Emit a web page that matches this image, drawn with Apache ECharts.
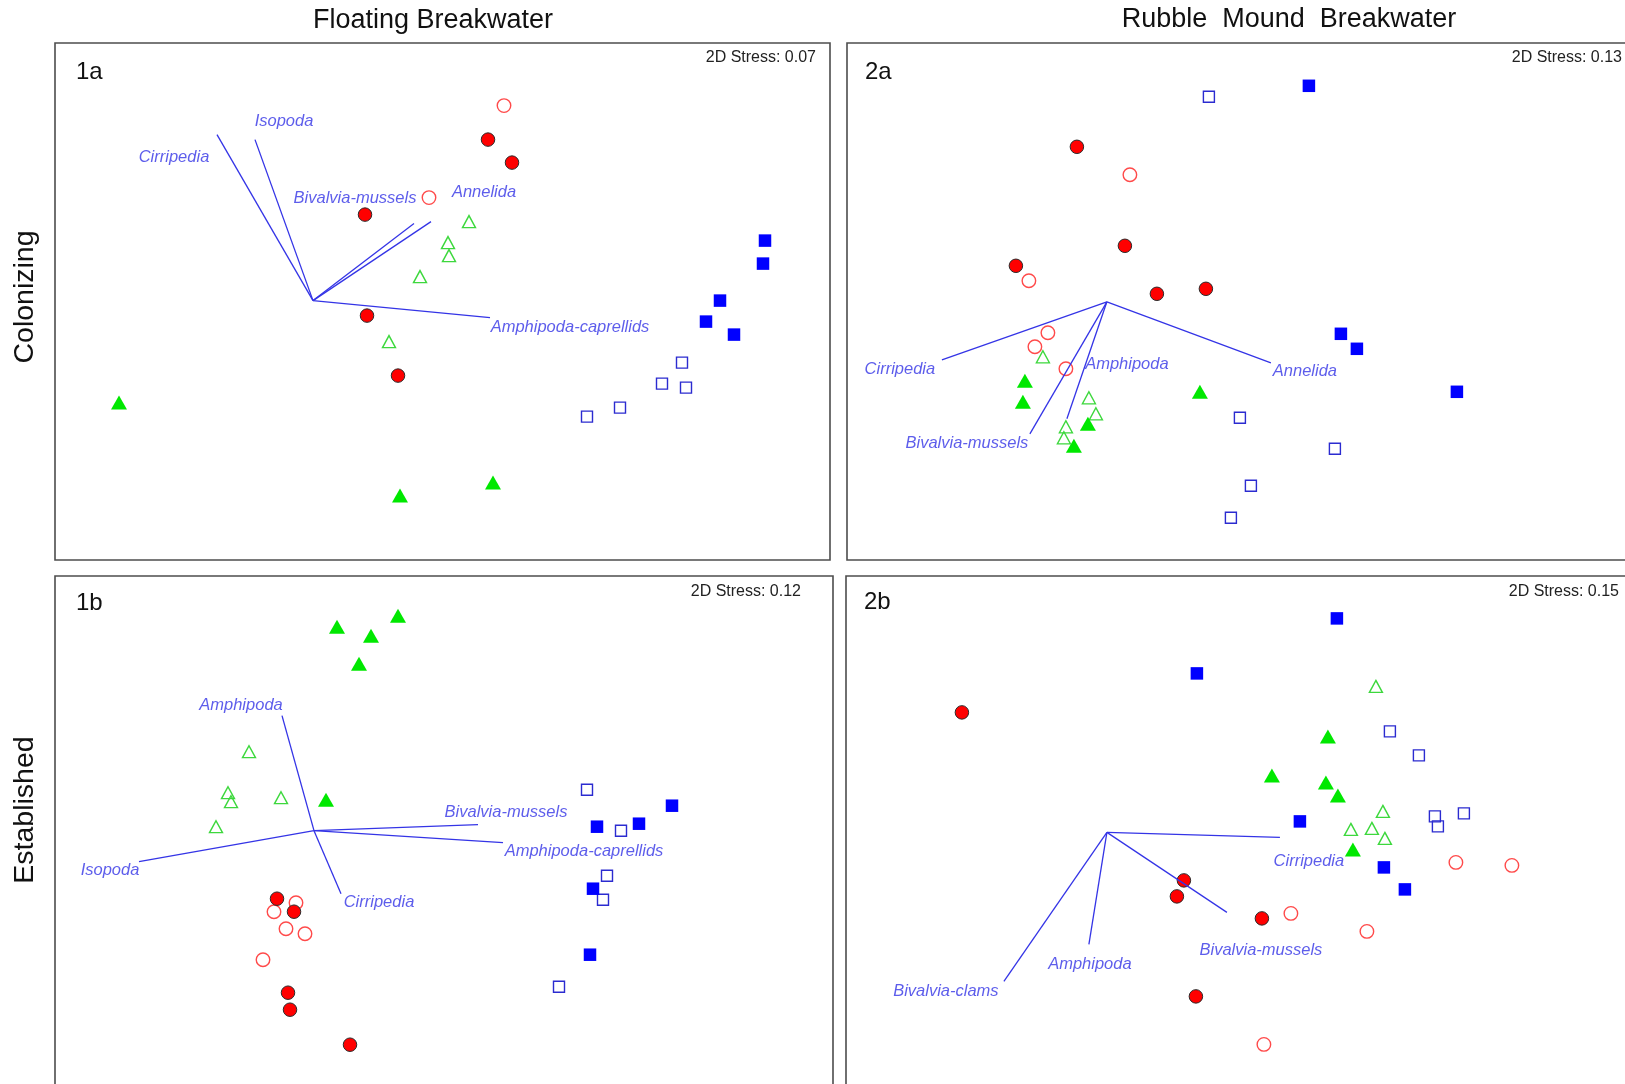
<!DOCTYPE html>
<html>
<head>
<meta charset="utf-8">
<title>nMDS ordinations – Floating vs Rubble Mound Breakwater</title>
<script src="https://cdn.jsdelivr.net/npm/echarts@6/dist/echarts.min.js"></script>
<style>
  html, body { margin: 0; padding: 0; background: #fff; }
  #chart { width: 1625px; height: 1084px; }
</style>
</head>
<body>
<div id="chart"></div>
<script>
// ---- nMDS scores (ordination units), vector origin at (0, 0) ----

// Panel 1a: Floating breakwater, colonizing
const fbColRedFilled   = [[1.75, 1.61], [1.99, 1.38], [0.52, 0.86], [0.54, -0.15], [0.85, -0.75]];
const fbColRedOpen     = [[1.91, 1.95], [1.16, 1.03]];
const fbColGreenOpen   = [[1.56, 0.79], [1.35, 0.58], [1.36, 0.45], [1.07, 0.24], [0.76, -0.41]];
const fbColGreenFilled = [[-1.94, -1.02], [0.87, -1.95], [1.80, -1.82]];
const fbColBlueFilled  = [[4.52, 0.60], [4.50, 0.37], [4.07, 0.00], [3.93, -0.21], [4.21, -0.34]];
const fbColBlueOpen    = [[3.69, -0.62], [3.49, -0.83], [3.73, -0.87], [3.07, -1.07], [2.74, -1.16]];
const fbColTaxa        = ['Cirripedia', 'Isopoda', 'Bivalvia-mussels', 'Annelida', 'Amphipoda-caprellids'];
const fbColVectors     = [[-0.96, 1.66], [-0.58, 1.61], [1.01, 0.77], [1.18, 0.79], [1.77, -0.17]];
const fbColTaxaPos     = [[-1.39, 1.43], [-0.29, 1.79], [0.42, 1.02], [1.71, 1.08], [2.57, -0.27]];

// Panel 2a: Rubble mound breakwater, colonizing
const rmColRedFilled   = [[-0.30, 1.55], [0.18, 0.56], [-0.91, 0.36], [0.50, 0.08], [0.99, 0.13]];
const rmColRedOpen     = [[0.23, 1.27], [-0.78, 0.21], [-0.59, -0.31], [-0.72, -0.45], [-0.41, -0.67]];
const rmColGreenOpen   = [[-0.64, -0.55], [-0.18, -0.96], [-0.11, -1.12], [-0.41, -1.25], [-0.43, -1.36]];
const rmColGreenFilled = [[-0.82, -0.79], [-0.84, -1.00], [-0.19, -1.22], [-0.33, -1.44], [0.93, -0.90]];
const rmColBlueFilled  = [[2.02, 2.16], [2.34, -0.32], [2.50, -0.47], [3.50, -0.90]];
const rmColBlueOpen    = [[1.02, 2.05], [1.33, -1.16], [2.28, -1.47], [1.44, -1.84], [1.24, -2.16]];
const rmColTaxa        = ['Cirripedia', 'Bivalvia-mussels', 'Amphipoda', 'Annelida'];
const rmColVectors     = [[-1.65, -0.58], [-0.77, -1.32], [-0.40, -1.17], [1.64, -0.61]];
const rmColTaxaPos     = [[-2.07, -0.68], [-1.40, -1.42], [0.20, -0.63], [1.98, -0.70]];

// Panel 1b: Floating breakwater, established
const fbEstRedFilled   = [[-0.37, -0.68], [-0.20, -0.81], [-0.26, -1.62], [-0.24, -1.79], [0.36, -2.14]];
const fbEstRedOpen     = [[-0.18, -0.72], [-0.40, -0.81], [-0.28, -0.98], [-0.09, -1.03], [-0.51, -1.29]];
const fbEstGreenOpen   = [[-0.65, 0.79], [-0.86, 0.38], [-0.83, 0.29], [-0.33, 0.33], [-0.98, 0.04]];
const fbEstGreenFilled = [[0.84, 2.15], [0.23, 2.04], [0.57, 1.95], [0.45, 1.67], [0.12, 0.31]];
const fbEstBlueFilled  = [[3.58, 0.25], [2.83, 0.04], [3.25, 0.07], [2.79, -0.58], [2.76, -1.24]];
const fbEstBlueOpen    = [[2.73, 0.41], [3.07, 0.00], [2.93, -0.45], [2.89, -0.69], [2.45, -1.56]];
const fbEstTaxa        = ['Amphipoda', 'Isopoda', 'Cirripedia', 'Bivalvia-mussels', 'Amphipoda-caprellids'];
const fbEstVectors     = [[-0.32, 1.15], [-1.75, -0.31], [0.27, -0.63], [1.64, 0.06], [1.89, -0.12]];
const fbEstTaxaPos     = [[-0.73, 1.25], [-2.04, -0.40], [0.65, -0.72], [1.92, 0.18], [2.70, -0.21]];

// Panel 2b: Rubble mound breakwater, established
const rmEstRedFilled   = [[-1.45, 1.20], [0.77, -0.48], [0.70, -0.64], [1.55, -0.86], [0.89, -1.64]];
const rmEstRedOpen     = [[1.84, -0.81], [2.60, -0.99], [3.49, -0.30], [4.05, -0.33], [1.57, -2.12]];
const rmEstGreenOpen   = [[2.69, 1.46], [2.76, 0.21], [2.44, 0.03], [2.65, 0.04], [2.78, -0.06]];
const rmEstGreenFilled = [[2.21, 0.96], [1.65, 0.57], [2.19, 0.50], [2.31, 0.37], [2.46, -0.17]];
const rmEstBlueFilled  = [[2.30, 2.14], [0.90, 1.59], [1.93, 0.11], [2.77, -0.35], [2.98, -0.57]];
const rmEstBlueOpen    = [[2.83, 1.01], [3.12, 0.77], [3.28, 0.16], [3.31, 0.06], [3.57, 0.19]];
const rmEstTaxa        = ['Cirripedia', 'Bivalvia-mussels', 'Amphipoda', 'Bivalvia-clams'];
const rmEstVectors     = [[1.73, -0.05], [1.20, -0.80], [-0.18, -1.12], [-1.03, -1.49]];
const rmEstTaxaPos     = [[2.02, -0.29], [1.54, -1.18], [-0.17, -1.32], [-1.61, -1.59]];

// Panel headings and stress values
const columnTitles = ['Floating Breakwater', 'Rubble  Mound  Breakwater'];
const rowTitles    = ['Colonizing', 'Established'];
const panelIds     = ['1a', '2a', '1b', '2b'];
const stressValues = ['0.07', '0.13', '0.12', '0.15'];

// ---- layout ----
const FONT = '"Liberation Sans", Arial, sans-serif';
// the right-hand column and the lower row run past the page edge
const grids = [
  { left: 55,  top: 43,  width: 775, height: 517 },
  { left: 847, top: 43,  width: 790, height: 517 },
  { left: 55,  top: 576, width: 778, height: 530 },
  { left: 846, top: 576, width: 791, height: 530 }
];
const xRanges = [[-2.58, 5.17], [-2.599, 5.301], [-2.59, 5.19], [-2.609, 5.301]];
const yRanges = [[-2.594, 2.576], [-2.582, 2.588], [-2.753, 2.547], [-2.736, 2.564]];

const panels = [
  { red: fbColRedFilled, redO: fbColRedOpen, grO: fbColGreenOpen, gr: fbColGreenFilled, bl: fbColBlueFilled, blO: fbColBlueOpen, taxa: fbColTaxa, vec: fbColVectors, pos: fbColTaxaPos },
  { red: rmColRedFilled, redO: rmColRedOpen, grO: rmColGreenOpen, gr: rmColGreenFilled, bl: rmColBlueFilled, blO: rmColBlueOpen, taxa: rmColTaxa, vec: rmColVectors, pos: rmColTaxaPos },
  { red: fbEstRedFilled, redO: fbEstRedOpen, grO: fbEstGreenOpen, gr: fbEstGreenFilled, bl: fbEstBlueFilled, blO: fbEstBlueOpen, taxa: fbEstTaxa, vec: fbEstVectors, pos: fbEstTaxaPos },
  { red: rmEstRedFilled, redO: rmEstRedOpen, grO: rmEstGreenOpen, gr: rmEstGreenFilled, bl: rmEstBlueFilled, blO: rmEstBlueOpen, taxa: rmEstTaxa, vec: rmEstVectors, pos: rmEstTaxaPos }
];

const VEC_BLUE = '#3434e6';

function scatter(i, data, symbol, size, fill, stroke, lw, z) {
  return {
    type: 'scatter', xAxisIndex: i, yAxisIndex: i, data: data,
    symbol: symbol, symbolSize: size, z: z || 3, silent: true,
    itemStyle: { color: fill, borderColor: stroke, borderWidth: lw, opacity: 1 }
  };
}

const series = [];
panels.forEach(function (p, i) {
  series.push(scatter(i, p.redO, 'circle', 13.5, 'rgba(0,0,0,0)', '#ff4a4a', 1.4));
  series.push(scatter(i, p.grO, 'triangle', [13, 12], 'rgba(0,0,0,0)', '#3dd83d', 1.4));
  series.push(scatter(i, p.blO, 'rect', 11, 'rgba(0,0,0,0)', '#2b2bd0', 1.4));
  series.push(scatter(i, p.red, 'circle', 13.5, '#ff0000', '#2a2a2a', 1));
  series.push(scatter(i, p.gr, 'triangle', [16, 14], '#00e800', '#00e800', 0));
  series.push(scatter(i, p.bl, 'rect', 12.5, '#0000ff', '#0000ff', 0));
  // environmental vectors drawn from the origin
  series.push({
    type: 'lines', coordinateSystem: 'cartesian2d', xAxisIndex: i, yAxisIndex: i,
    z: 5, silent: true,
    lineStyle: { color: VEC_BLUE, width: 1.3, opacity: 1, curveness: 0 },
    data: p.vec.map(function (v) { return { coords: [[0, 0], v] }; })
  });
  // vector labels
  series.push({
    type: 'scatter', xAxisIndex: i, yAxisIndex: i, z: 6, silent: true,
    symbolSize: 1, itemStyle: { color: 'rgba(0,0,0,0)' },
    data: p.pos.map(function (v, k) { return { value: v, name: p.taxa[k] }; }),
    label: {
      show: true, position: 'inside', formatter: '{b}',
      fontFamily: FONT, fontStyle: 'italic', fontSize: 16.5, color: VEC_BLUE
    }
  });
});

// headings, panel ids and stress notes
const graphic = [];
graphic.push({ type: 'text', x: 433, y: 21, style: { text: columnTitles[0], font: '27px ' + FONT, fill: '#111', textAlign: 'center', textVerticalAlign: 'middle' } });
graphic.push({ type: 'text', x: 1289, y: 20, style: { text: columnTitles[1], font: '27px ' + FONT, fill: '#111', textAlign: 'center', textVerticalAlign: 'middle' } });
graphic.push({ type: 'text', x: 25, y: 297, rotation: Math.PI / 2, style: { text: rowTitles[0], font: '28.5px ' + FONT, fill: '#111', textAlign: 'center', textVerticalAlign: 'middle' } });
graphic.push({ type: 'text', x: 25, y: 810, rotation: Math.PI / 2, style: { text: rowTitles[1], font: '28.5px ' + FONT, fill: '#111', textAlign: 'center', textVerticalAlign: 'middle' } });
const idPos = [[76, 72], [865, 72], [76, 603], [864, 602]];
const stressPos = [[816, 58], [1622, 58], [801, 592], [1619, 592]];
panelIds.forEach(function (t, k) {
  graphic.push({ type: 'text', x: idPos[k][0], y: idPos[k][1], style: { text: t, font: '24px ' + FONT, fill: '#111', textAlign: 'left', textVerticalAlign: 'middle' } });
  graphic.push({ type: 'text', x: stressPos[k][0], y: stressPos[k][1], style: { text: '2D Stress: ' + stressValues[k], font: '16px ' + FONT, fill: '#222', textAlign: 'right', textVerticalAlign: 'middle' } });
});

const chart = echarts.init(document.getElementById('chart'), null, { renderer: 'canvas' });
chart.setOption({
  animation: false,
  backgroundColor: '#ffffff',
  grid: grids.map(function (g) {
    return Object.assign({ show: true, borderColor: '#4d4d4d', borderWidth: 1.6, backgroundColor: 'transparent', outerBoundsMode: 'none' }, g);
  }),
  xAxis: xRanges.map(function (r, i) {
    return { type: 'value', gridIndex: i, min: r[0], max: r[1], show: false, splitLine: { show: false } };
  }),
  yAxis: yRanges.map(function (r, i) {
    return { type: 'value', gridIndex: i, min: r[0], max: r[1], show: false, splitLine: { show: false } };
  }),
  series: series,
  graphic: graphic
});
</script>
</body>
</html>
